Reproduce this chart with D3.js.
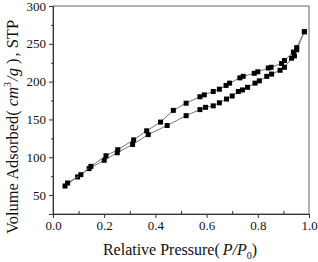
<!DOCTYPE html>
<html>
<head>
<meta charset="utf-8">
<script src="https://cdn.jsdelivr.net/npm/d3@7"></script>
<style>
	body { margin: 0; background: #fff; }
	svg { display: block; font-family: 'Liberation Serif', 'DejaVu Serif', serif; }
</style>
</head>
<body>
<svg width="318" height="262"></svg>
<script>
// N2 isotherm - adsorption (lower) and desorption (upper) branches
const adsX = [0.047, 0.096, 0.141, 0.200, 0.251, 0.311, 0.372, 0.446, 0.520, 0.574, 0.596, 0.626, 0.650, 0.678, 0.700, 0.724, 0.740, 0.760, 0.789, 0.806, 0.835, 0.854, 0.887, 0.904, 0.932, 0.943, 0.952, 0.982]
const adsY = [62, 74, 85, 96, 106, 117, 130, 142, 155, 163, 166, 168, 172, 177, 181, 187, 189, 192.5, 198, 201, 207, 210, 215, 219, 231, 234, 242, 266]
const desX = [0.982, 0.952, 0.939, 0.904, 0.893, 0.852, 0.841, 0.800, 0.786, 0.743, 0.730, 0.690, 0.676, 0.650, 0.626, 0.591, 0.574, 0.520, 0.470, 0.420, 0.366, 0.315, 0.253, 0.207, 0.148, 0.109, 0.057]
const desY = [266, 245, 239, 228, 224, 219, 218, 213, 211, 207, 205, 198, 195, 190, 187, 182.5, 180, 171.5, 162, 146.5, 135, 123, 110, 102, 88, 77, 66]

const xTicks = [0.0, 0.2, 0.4, 0.6, 0.8, 1.0]
const xMinor = [0.1, 0.3, 0.5, 0.7, 0.9]
const yTicks = [50, 100, 150, 200, 250, 300]
const yMinor = [75, 125, 175, 225, 275]

const margin = {top: 6, right: 9, bottom: 48, left: 53}
const svg = d3.select('svg')
const W = +svg.attr('width') - margin.left - margin.right
const H = +svg.attr('height') - margin.top - margin.bottom

const g = svg.append('g').attr('transform', 'translate(' + margin.left + ',' + margin.top + ')')

const x = d3.scaleLinear().domain([0, 1]).range([0, W])
const y = d3.scaleLinear().domain([25, 300]).range([H, 0])

// frame
g.append('rect').attr('width', W).attr('height', H)
	.attr('fill', 'none').attr('stroke', '#666').attr('stroke-width', 1)

// axes
g.append('g').attr('transform', 'translate(0,' + H + ')')
	.call(d3.axisBottom(x).tickValues(xTicks).tickFormat(d3.format('.1f')).tickSize(4).tickPadding(3))
g.append('g')
	.call(d3.axisLeft(y).tickValues(yTicks).tickSize(4).tickPadding(3))

g.append('g').attr('transform', 'translate(0,' + H + ')')
	.call(d3.axisBottom(x).tickValues(xMinor).tickSize(-3).tickFormat(''))
	.call(a => a.select('.domain').remove())
g.append('g')
	.call(d3.axisLeft(y).tickValues(yMinor).tickSize(2).tickFormat(''))
	.call(a => a.select('.domain').remove())

g.selectAll('.domain').attr('stroke', '#333')
g.selectAll('.tick line').attr('stroke', '#333')
g.selectAll('.tick text').attr('font-size', 13).attr('fill', '#111')
	.attr('font-family', "'Liberation Serif', serif")

// series
const line = d3.line()
	.x(function(d) { return x(d[0]) })
	.y(function(d) { return y(d[1]) })

const series = [d3.zip(adsX, adsY), d3.zip(desX, desY)]

series.forEach(function(data) {
	g.append('path').datum(data)
		.attr('fill', 'none').attr('stroke', '#777').attr('stroke-width', 1)
		.attr('d', line)
	g.selectAll(null).data(data).enter().append('rect')
		.attr('x', d => x(d[0]) - 2.5).attr('y', d => y(d[1]) - 2.5)
		.attr('width', 5).attr('height', 5).attr('fill', '#000')
})

// axis titles
const xt = svg.append('text').attr('x', 180).attr('y', 255)
	.attr('text-anchor', 'middle').attr('font-size', 16).attr('fill', '#111')
xt.append('tspan').text('Relative Pressure(')
xt.append('tspan').attr('font-style', 'italic').attr('dx', 3).text('P/P')
xt.append('tspan').attr('font-size', 10).attr('dy', 4).text('0')
xt.append('tspan').attr('dy', -4).text(')')

const yt = svg.append('text').attr('transform', 'translate(18,127) rotate(-90)')
	.attr('text-anchor', 'middle').attr('font-size', 16.5).attr('fill', '#111')
yt.append('tspan').text('Volume Adsorbed(')
yt.append('tspan').attr('font-style', 'italic').attr('dx', 4).text('cm')
yt.append('tspan').attr('font-size', 10).attr('dy', -7).text('3')
yt.append('tspan').attr('font-style', 'italic').attr('dy', 7).attr('dx', 1).text('/g')
yt.append('tspan').attr('dx', 4).text(')')
yt.append('tspan').attr('dx', 2).text(', STP')
</script>
</body>
</html>
